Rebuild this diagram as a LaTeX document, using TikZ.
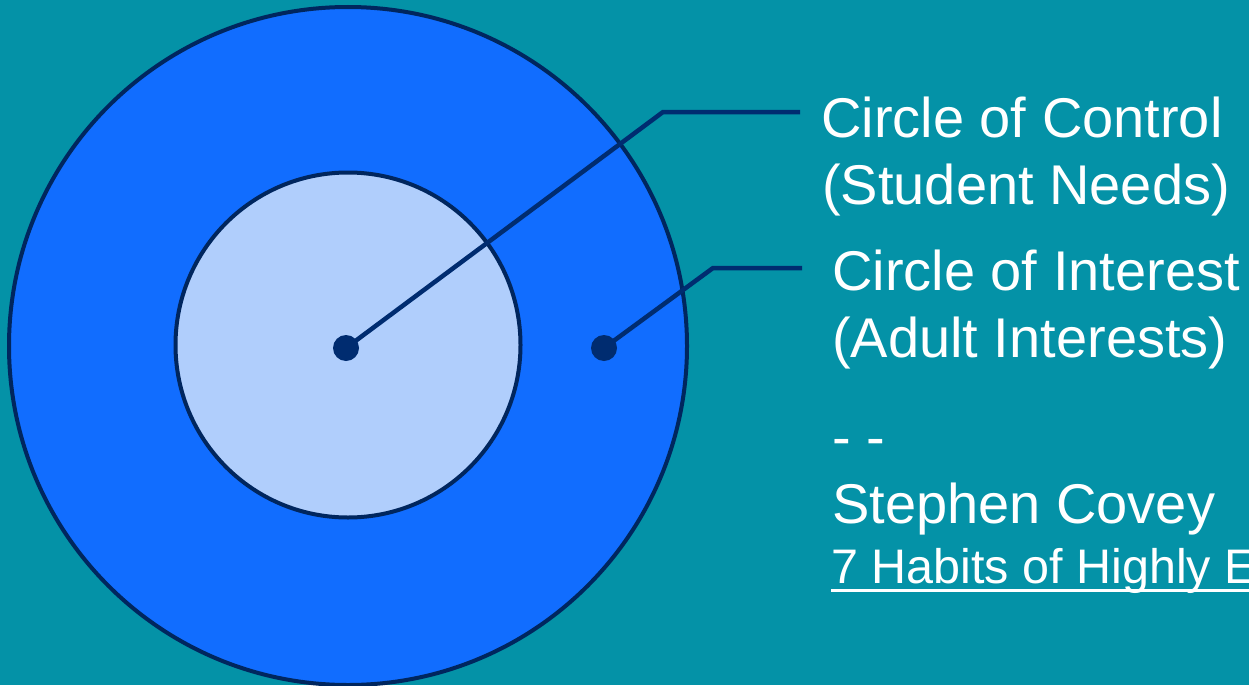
\documentclass[tikz,border=0pt]{standalone}
\usepackage{fontspec}
\setmainfont{Liberation Sans}
\definecolor{bgteal}{RGB}{4,146,167}
\definecolor{outerblue}{RGB}{17,109,255}
\definecolor{innerblue}{RGB}{176,206,252}
\definecolor{navy}{RGB}{0,44,112}
\definecolor{rimnavy}{RGB}{0,38,94}
\begin{document}
\begin{tikzpicture}[x=1pt,y=-1pt,
  rim/.style={draw=rimnavy,line width=4pt},
  dotmark/.style={circle,fill=navy,minimum size=26pt,inner sep=0pt},
  leader/.style={draw=navy,line width=4.5pt},
  bigtext/.style={text=white,inner sep=0pt,anchor=base west,font=\fontsize{56}{66}\selectfont},
  smalltext/.style={text=white,inner sep=0pt,anchor=base west,font=\fontsize{48.5}{58}\selectfont}]
\useasboundingbox (0,0) rectangle (1249,685);
\fill[bgteal] (0,0) rectangle (1249,685);
\clip (0,0) rectangle (1249,685);
% circles
\draw[rim,fill=outerblue] (348,346) circle[radius=339];
\draw[rim,fill=innerblue] (348,345) circle[radius=172.5];
% dots
\node[dotmark] (dot1) at (346,348) {};
\node[dotmark] (dot2) at (604,348) {};
% leader coordinates
\coordinate (elbow1) at (663,112);
\coordinate (end1) at (800,112);
\coordinate (elbow2) at (713,268);
\coordinate (end2) at (802,268);
\draw[leader] (dot1.center) -- (elbow1) -- (end1);
\draw[leader] (dot2.center) -- (elbow2) -- (end2);
% texts
\node[bigtext] (t1) at (821,137) {Circle of Control};
\node[bigtext] (t2) at (822,204) {(Student Needs)};
\node[bigtext] (t3) at (832,290) {Circle of Interest};
\node[bigtext] (t4) at (832,357) {(Adult Interests)};
\node[bigtext] (t5) at (832,456) {- -};
\node[bigtext] (t6) at (832,523) {Stephen Covey};
\node[smalltext] (t7) at (831,583) {7 Habits of Highly E};
\draw[white,line width=3pt] ([yshift=-7.5pt]t7.base west) -- ([yshift=-7.5pt,xshift=30pt]t7.base east);
\end{tikzpicture}
\end{document}
